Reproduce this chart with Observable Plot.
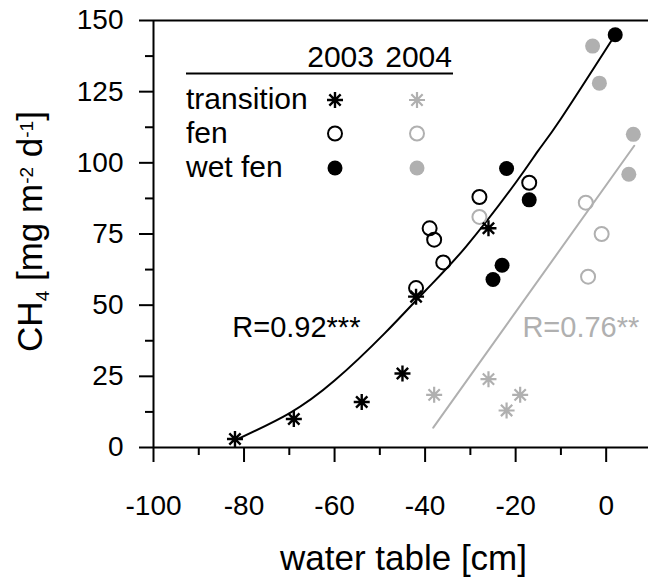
<!DOCTYPE html>
<html><head><meta charset="utf-8">
<script src="https://cdn.jsdelivr.net/npm/d3@7"></script>
<script src="https://cdn.jsdelivr.net/npm/@observablehq/plot@0.6"></script>
<style>
body{margin:0;background:#fff;}
#chart{width:648px;height:577px;}
svg{font-family:"Liberation Sans",Arial,Helvetica,sans-serif;}
</style></head><body><div id="chart"></div>
<script>
// ---- data (water table [cm], CH4 [mg m-2 d-1]) ----
const transition2003 = [[-82,3],[-69,10],[-54,16],[-45,26],[-42,53],[-26,77]];
const fen2003 = [[-42,56],[-39,77],[-38,73],[-36,65],[-28,88],[-17,93]];
const wetfen2003 = [[-22,98],[-17,87],[-23,64],[-25,59],[2,145]];
const transition2004 = [[-38,18.5],[-26,24],[-19,18.5],[-22,13]];
const fen2004 = [[-28,81],[-4.5,86],[-1,75],[-4,60]];
const wetfen2004 = [[-3,141],[-1.5,128],[6,110],[5,96]];
// fitted curves
const fit2003 = [[-82,2.5],[-70,12],[-60,23.5],[-49,40],[-40,55],[-31,70.5],[-20,93],[-15,104.3],[-10,115.5],[2,145]];
const fit2004 = [[-38.2,7],[6.2,106]];
const annotations = [
  {text:"R=0.92***", x:-82.6, y:38.7, color:"black"},
  {text:"R=0.76**", x:-18.5, y:38.7, color:"gray"}
];
const xTicks = [-100,-80,-60,-40,-20,0];
const xMinor = [-90,-70,-50,-30,-10];
const yTicks = [0,25,50,75,100,125,150];
const yMinor = [12.5,37.5,62.5,87.5,112.5,137.5];
const legendRows = ["transition","fen","wet fen"];
const legendYears = ["2003","2004"];
const xLabel = "water table [cm]";

const GRAY = "#b0b0b0";
const col = c => c === "gray" ? GRAY : "black";

const asterisk8 = {
  draw(ctx, size) {
    const r = Math.sqrt(size / Math.PI), d = r * Math.SQRT1_2;
    ctx.moveTo(-r,0); ctx.lineTo(r,0);
    ctx.moveTo(0,-r); ctx.lineTo(0,r);
    ctx.moveTo(-d,-d); ctx.lineTo(d,d);
    ctx.moveTo(-d,d); ctx.lineTo(d,-d);
  }
};
const px = d => d[0], py = d => d[1];

const plot = Plot.plot({
  width: 648, height: 577,
  marginLeft: 153, marginRight: 0, marginTop: 20, marginBottom: 130,
  x: {domain: [-100, 9.35]},
  y: {domain: [0, 150]},
  style: {fontFamily: '"Liberation Sans",Arial,sans-serif', fontSize: "28px", color: "black", background: "white"},
  marks: [
    Plot.axisX(xTicks, {tickSize: 15, tickPadding: 33, strokeWidth: 2, tickFormat: d => String(d), label: null, fontSize: 28}),
    Plot.axisX(xMinor, {tickSize: 8, strokeWidth: 2, text: null, label: null}),
    Plot.axisY(yTicks, {tickSize: 14, tickPadding: 16, strokeWidth: 2, tickFormat: d => String(d), label: null, fontSize: 28}),
    Plot.axisY(yMinor, {tickSize: 8, strokeWidth: 2, text: null, label: null}),
    Plot.ruleY([0, 150], {strokeWidth: 2}),
    Plot.ruleX([-100], {strokeWidth: 2}),
    Plot.line(fit2003, {x: px, y: py, curve: "natural", stroke: "black", strokeWidth: 2}),
    Plot.line(fit2004, {x: px, y: py, stroke: GRAY, strokeWidth: 2}),
    Plot.dot(transition2004, {x: px, y: py, symbol: asterisk8, r: 8, stroke: GRAY, fill: "none", strokeWidth: 2.2}),
    Plot.dot(fen2004, {x: px, y: py, r: 7, stroke: GRAY, fill: "none", strokeWidth: 2}),
    Plot.dot(wetfen2004, {x: px, y: py, r: 7.5, fill: GRAY, stroke: "none"}),
    Plot.dot(transition2003, {x: px, y: py, symbol: asterisk8, r: 8, stroke: "black", fill: "none", strokeWidth: 2.4}),
    Plot.dot(fen2003, {x: px, y: py, r: 7, stroke: "black", fill: "none", strokeWidth: 2}),
    Plot.dot(wetfen2003, {x: px, y: py, r: 7.5, fill: "black", stroke: "none"}),
    Plot.text(annotations, {x: "x", y: "y", text: "text", fill: d => col(d.color), textAnchor: "start", lineAnchor: "bottom", fontSize: 29})
  ]
});
document.getElementById("chart").appendChild(plot);

// ---- legend, axis titles (pixel layout) ----
const svg = d3.select(plot);
const lg = svg.append("g").attr("font-size", 30).attr("fill", "black");
const colX = [335, 417], headEnd = [374, 452];
legendYears.forEach((t, i) => lg.append("text").attr("x", headEnd[i]).attr("y", 67).attr("text-anchor", "end").text(t));
lg.append("line").attr("x1", 186).attr("x2", 453).attr("y1", 73.5).attr("y2", 73.5).attr("stroke", "black").attr("stroke-width", 2);
const rowY = [100, 133.5, 168];
legendRows.forEach((t, i) => {
  lg.append("text").attr("x", 186).attr("y", rowY[i] + 9).attr("text-anchor", "start").text(t);
  [0, 1].forEach(j => {
    const c = j === 0 ? "black" : GRAY;
    const g = lg.append("g").attr("transform", `translate(${colX[j]},${rowY[i]})`);
    if (i === 0) g.append("path").attr("d", d3.symbol(asterisk8, Math.PI * 64)()).attr("stroke", c).attr("stroke-width", j ? 2.2 : 2.4).attr("fill", "none");
    else if (i === 1) g.append("circle").attr("r", 7).attr("fill", "none").attr("stroke", c).attr("stroke-width", 2);
    else g.append("circle").attr("r", 7.5).attr("fill", c);
  });
});

svg.append("text").attr("x", 403.5).attr("y", 570).attr("text-anchor", "middle").attr("font-size", 35).text(xLabel);

const yl = svg.append("text").attr("transform", "translate(42,231.5) rotate(-90)").attr("text-anchor", "middle").attr("font-size", 35);
yl.append("tspan").text("CH");
yl.append("tspan").attr("font-size", 19).attr("dy", 7).text("4");
yl.append("tspan").attr("dy", -7).text(" [mg m");
yl.append("tspan").attr("font-size", 19).attr("dy", -9).text("-2");
yl.append("tspan").attr("dy", 9).text(" d");
yl.append("tspan").attr("font-size", 19).attr("dy", -9).text("-1");
yl.append("tspan").attr("dy", 9).text("]");
</script></body></html>
